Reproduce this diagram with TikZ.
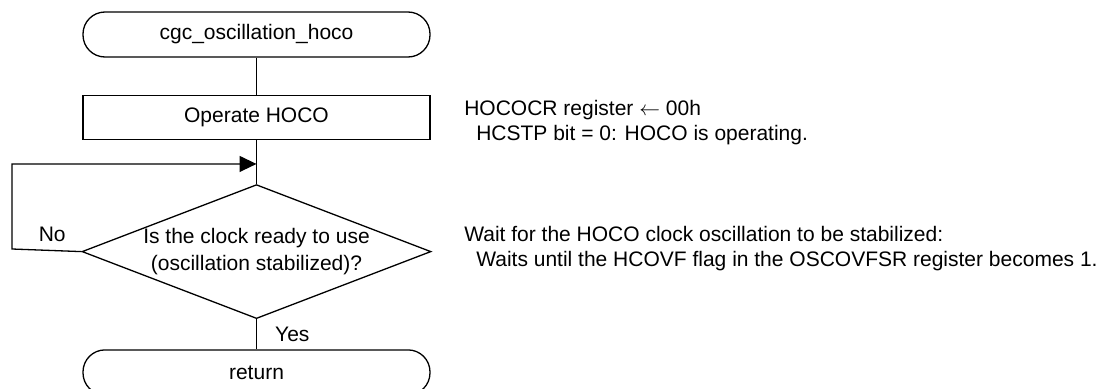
\documentclass[tikz,border=0pt]{standalone}
\usepackage{fontspec}
\setmainfont{Liberation Sans}
\usetikzlibrary{positioning,shapes.geometric,arrows.meta}

\begin{document}
\begin{tikzpicture}[x=1pt,y=-1pt,line width=1.3pt,font=\fontsize{21}{25}\selectfont,
  term node/.style={draw,rounded corners=22pt,minimum width=347pt,minimum height=45pt,inner sep=0pt},
  proc node/.style={draw,minimum width=347pt,minimum height=44pt,inner sep=0pt},
  test node/.style={draw,diamond,aspect=2.6,minimum width=349pt,minimum height=134pt,
    inner xsep=-10pt,inner ysep=-5pt,align=center,font=\fontsize{21}{27}\selectfont},
  note node/.style={align=left,inner sep=0pt,anchor=west}]

  \useasboundingbox (0,0) rectangle (1110,388);

  \node[term node] (start) at (256.5,34.5) {cgc\_oscillation\_hoco};
  \node[proc node] (op) [below=37pt of start] {Operate HOCO};
  \node[test node] (chk) [below=44pt of op] {Is the clock ready to use\\(oscillation stabilized)?};
  \node[term node] (ret) [below=30pt of chk] {return};

  \coordinate[below=24pt of op] (join);
  \coordinate (back) at (12,249);

  \node[note node] (n1) [right=33pt of op,yshift=-5pt]
    {HOCOCR register $\leftarrow$ 00h\\\hspace*{12pt}HCSTP bit = 0: HOCO is operating.};
  \node[note node] (n2) [right=32pt of chk,yshift=3pt]
    {Wait for the HOCO clock oscillation to be stabilized:\\\hspace*{12pt}Waits until the HCOVF flag in the OSCOVFSR register becomes 1.};

  \path[draw,every node/.style={inner sep=0pt}]
    (start) edge (op)
    (op)    edge (chk)
    (chk)   edge node [right=18pt] {Yes} (ret);
  \draw[-{Triangle[length=17pt,width=16pt]}] (chk.west) -- node [above=5pt,pos=0.42] {No} (back) |- (join);
\end{tikzpicture}
\end{document}
